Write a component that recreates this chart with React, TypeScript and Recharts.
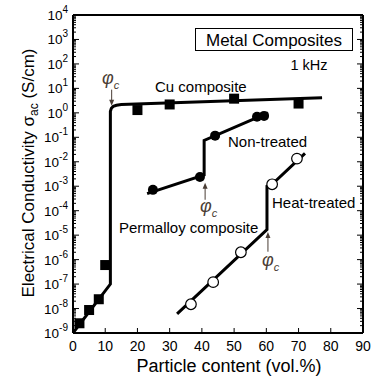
import React from "react";
import {
  ComposedChart,
  Line,
  Scatter,
  XAxis,
  YAxis,
  ReferenceLine,
} from "recharts";

// measured points (vol.% , S/cm)
const CU_X = [2, 5, 8, 10, 20, 30, 50, 70];
const CU_Y = [2.5e-9, 8.7e-9, 2.4e-8, 6e-7, 1.3, 2.2, 3.8, 2.4];
const NON_X = [24.8, 39.4, 44.1, 57.1, 59.3];
const NON_Y = [7.1e-4, 2.4e-3, 0.117, 0.69, 0.75];
const HEAT_X = [36.6, 43.5, 52.1, 61.8, 69.5];
const HEAT_Y = [1.5e-8, 1.2e-7, 2e-6, 1.2e-3, 1.35e-2];

// guide lines drawn through the data
const CU_FIT_X = [0, 11.6, 11.6, 11.9, 12.5, 13.5, 15, 77.3];
const CU_FIT_Y = [1e-9, 1e-7, 1.15, 1.55, 1.85, 2.05, 2.2, 4.1];
const NON_FIT_X = [23, 40.7, 40.7, 60.5];
const NON_FIT_Y = [5e-4, 2.9e-3, 0.075, 1.0];
const HEAT_FIT_X = [32.3, 60.2, 60.2, 61.8, 72];
const HEAT_FIT_Y = [6e-9, 1.7e-5, 1.0e-3, 1.2e-3, 2.2e-2];

// percolation threshold arrows: x, from y, to y
const ARROW_X = [12, 41, 60.5];
const ARROW_FROM = [8.9, 2.8e-4, 2.1e-6];
const ARROW_TO = [1.95, 1.4e-3, 1.35e-5];

const X_TICKS = [0, 10, 20, 30, 40, 50, 60, 70, 80, 90];
const Y_EXP = [-9, -8, -7, -6, -5, -4, -3, -2, -1, 0, 1, 2, 3, 4];

const zip = (xs: number[], ys: number[]) => xs.map((x, i) => ({ x, y: ys[i] }));

const cuPts = zip(CU_X, CU_Y);
const nonPts = zip(NON_X, NON_Y);
const heatPts = zip(HEAT_X, HEAT_Y);
const cuFit = zip(CU_FIT_X, CU_FIT_Y);
const nonFit = zip(NON_FIT_X, NON_FIT_Y);
const heatFit = zip(HEAT_FIT_X, HEAT_FIT_Y);

// major + minor log ticks
const yTicks: number[] = [];
Y_EXP.forEach((e) => {
  yTicks.push(Math.pow(10, e));
  if (e < 4) for (let m = 2; m <= 9; m++) yTicks.push(m * Math.pow(10, e));
});

const FONT = "'Liberation Sans', Arial, Helvetica, sans-serif";
const ARROW_COLOR = "#4a3d35";

const isMajor = (v: number) => {
  const l = Math.log10(v);
  return Math.abs(l - Math.round(l)) < 1e-6;
};

function LeftTick(props: any) {
  const { x, y, payload } = props;
  const v = payload.value;
  const major = isMajor(v);
  const e = Math.round(Math.log10(v));
  return (
    <g>
      <line x1={x} x2={x + (major ? 6 : 3)} y1={y} y2={y} stroke="#000" strokeWidth={1} />
      {major && (
        <text x={x - 5} y={y + 5} textAnchor="end" fontSize={13.5} fontFamily={FONT} fill="#000">
          10
          <tspan dy={-7} fontSize={10}>
            {e}
          </tspan>
        </text>
      )}
    </g>
  );
}

function RightTick(props: any) {
  const { x, y, payload } = props;
  const major = isMajor(payload.value);
  return <line x1={x} x2={x - (major ? 6 : 3)} y1={y} y2={y} stroke="#000" strokeWidth={1} />;
}

function BottomTick(props: any) {
  const { x, y, payload } = props;
  return (
    <g>
      <line x1={x} x2={x} y1={y} y2={y - 5} stroke="#000" strokeWidth={1} />
      <text x={x} y={y + 18} textAnchor="middle" fontSize={14} fontFamily={FONT} fill="#000">
        {payload.value}
      </text>
    </g>
  );
}

function TopTick(props: any) {
  const { x, y } = props;
  return <line x1={x} x2={x} y1={y} y2={y + 5} stroke="#000" strokeWidth={1} />;
}

const Square = (p: any) => <rect x={p.cx - 5} y={p.cy - 5} width={10} height={10} fill="#000" />;
const Dot = (p: any) => <circle cx={p.cx} cy={p.cy} r={5} fill="#000" />;
const OpenDot = (p: any) => (
  <circle cx={p.cx} cy={p.cy} r={5.3} fill="#fff" stroke="#000" strokeWidth={1.2} />
);

function Arrow(p: any) {
  const { x1, y1, x2, y2 } = p;
  const dir = y2 > y1 ? 1 : -1;
  return (
    <g>
      <line x1={x1} y1={y1} x2={x2} y2={y2 - dir * 3} stroke={ARROW_COLOR} strokeWidth={1} />
      <path
        d={`M${x2 - 2.5},${y2 - dir * 6} L${x2},${y2} L${x2 + 2.5},${y2 - dir * 6} Z`}
        fill={ARROW_COLOR}
      />
    </g>
  );
}

function Phi({ x, y }: { x: number; y: number }) {
  return (
    <text x={x} y={y} fontFamily={FONT} fontStyle="italic" fill={ARROW_COLOR} fontSize={18}>
      φ
      <tspan dy={5} fontSize={11}>
        c
      </tspan>
    </text>
  );
}

export default function App() {
  const txt = { fontFamily: FONT, fill: "#000" };
  return (
    <div style={{ position: "absolute", left: 0, top: 0, width: 373, height: 376, background: "#fff" }}>
      <ComposedChart
        width={373}
        height={376}
        margin={{ top: 14, right: 9, bottom: 0, left: 0 }}
      >
        <XAxis
          xAxisId="b"
          type="number"
          dataKey="x"
          domain={[0, 90]}
          ticks={X_TICKS}
          interval={0}
          height={43}
          tickSize={0}
          tickMargin={0}
          tickLine={false}
          axisLine={{ stroke: "#000", strokeWidth: 2 }}
          tick={(p: any) => <BottomTick {...p} />}
        />
        <XAxis
          xAxisId="t"
          orientation="top"
          type="number"
          dataKey="x"
          domain={[0, 90]}
          ticks={X_TICKS}
          interval={0}
          height={1}
          tickSize={0}
          tickMargin={0}
          tickLine={false}
          axisLine={{ stroke: "#000", strokeWidth: 2 }}
          tick={(p: any) => <TopTick {...p} />}
        />
        <YAxis
          yAxisId="l"
          type="number"
          dataKey="y"
          scale="log"
          domain={[1e-9, 1e4]}
          allowDataOverflow
          ticks={yTicks}
          interval={0}
          width={73}
          tickSize={0}
          tickMargin={0}
          tickLine={false}
          axisLine={{ stroke: "#000", strokeWidth: 2 }}
          tick={(p: any) => <LeftTick {...p} />}
        />
        <YAxis
          yAxisId="r"
          orientation="right"
          type="number"
          dataKey="y"
          scale="log"
          domain={[1e-9, 1e4]}
          allowDataOverflow
          ticks={yTicks}
          interval={0}
          width={1}
          tickSize={0}
          tickMargin={0}
          tickLine={false}
          axisLine={{ stroke: "#000", strokeWidth: 2 }}
          tick={(p: any) => <RightTick {...p} />}
        />

        {/* fit lines */}
        <Line xAxisId="b" yAxisId="l" data={cuFit} dataKey="y" type="linear" stroke="#000" strokeWidth={3} dot={false} isAnimationActive={false} />
        <Line xAxisId="b" yAxisId="l" data={nonFit} dataKey="y" type="linear" stroke="#000" strokeWidth={3} dot={false} isAnimationActive={false} />
        <Line xAxisId="b" yAxisId="l" data={heatFit} dataKey="y" type="linear" stroke="#000" strokeWidth={3} dot={false} isAnimationActive={false} />

        {/* arrows */}
        {ARROW_X.map((x, i) => (
          <ReferenceLine
            key={i}
            xAxisId="b"
            yAxisId="l"
            segment={[
              { x, y: ARROW_FROM[i] },
              { x, y: ARROW_TO[i] },
            ]}
            shape={(p: any) => <Arrow {...p} />}
          />
        ))}

        {/* markers */}
        <Scatter xAxisId="b" yAxisId="l" data={cuPts} shape={Square} isAnimationActive={false} />
        <Scatter xAxisId="b" yAxisId="l" data={nonPts} shape={Dot} isAnimationActive={false} />
        <Scatter xAxisId="b" yAxisId="l" data={heatPts} shape={OpenDot} isAnimationActive={false} />
      </ComposedChart>

      <svg
        width={373}
        height={376}
        style={{ position: "absolute", left: 0, top: 0, pointerEvents: "none" }}
      >
        <rect x={195.5} y={28.5} width={157} height={22} fill="#fff" stroke="#000" strokeWidth={1} />
        <text x={274} y={45.5} textAnchor="middle" fontSize={17} {...txt}>
          Metal Composites
        </text>
        <text x={309} y={70} textAnchor="middle" fontSize={14.5} {...txt}>
          1 kHz
        </text>
        <text x={155} y={92} fontSize={15} {...txt}>
          Cu composite
        </text>
        <text x={228} y={147} fontSize={15} {...txt}>
          Non-treated
        </text>
        <text x={119} y={233} fontSize={15} {...txt}>
          Permalloy composite
        </text>
        <text x={272} y={208} fontSize={15} {...txt}>
          Heat-treated
        </text>
        <Phi x={102} y={84} />
        <Phi x={200} y={212} />
        <Phi x={262} y={266} />
        <text x={229} y={372} textAnchor="middle" fontSize={18} {...txt}>
          Particle content (vol.%)
        </text>
        <text
          transform="translate(34,173) rotate(-90)"
          textAnchor="middle"
          fontSize={17}
          {...txt}
        >
          Electrical Conductivity σ
          <tspan dy={4} fontSize={12}>
            ac
          </tspan>
          <tspan dy={-4}> (S/cm)</tspan>
        </text>
      </svg>
    </div>
  );
}
